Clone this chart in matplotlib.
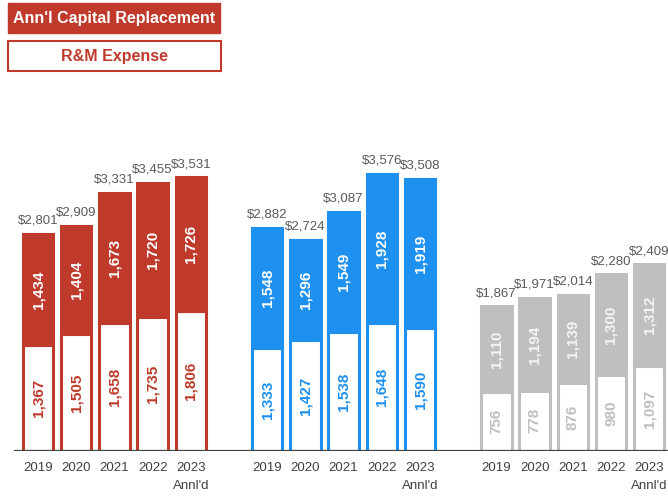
import matplotlib.pyplot as plt
from matplotlib.patches import Rectangle

# --- Data ---
years = ["2019", "2020", "2021", "2022", "2023\nAnnl'd"]

red_capital = [1434, 1404, 1673, 1720, 1726]
red_rm = [1367, 1505, 1658, 1735, 1806]
red_total = [2801, 2909, 3331, 3455, 3531]

blue_capital = [1548, 1296, 1549, 1928, 1919]
blue_rm = [1333, 1427, 1538, 1648, 1590]
blue_total = [2882, 2724, 3087, 3576, 3508]

gray_capital = [1110, 1194, 1139, 1300, 1312]
gray_rm = [756, 778, 876, 980, 1097]
gray_total = [1867, 1971, 2014, 2280, 2409]

groups = [
    (red_capital, red_rm, red_total, "#BF3A2B", "#BF3A2B", "white"),
    (blue_capital, blue_rm, blue_total, "#1E90F0", "#1E90F0", "white"),
    (gray_capital, gray_rm, gray_total, "#BFBFBF", "#BFBFBF", "#F4F4F4"),
]

plt.rcParams["font.family"] = ["Liberation Sans", "DejaVu Sans"]

W, H = 668, 498
fig = plt.figure(figsize=(W / 100, H / 100), dpi=100)
base_px = 47
ax = fig.add_axes([0, base_px / H, 1, 1 - base_px / H])

# x pixel = 38 + 38.2 * x
px0, step = 38, 38.2
ax.set_xlim(-px0 / step, (W - px0) / step)
ax.set_ylim(0, (H - base_px) / (217 / 2801))

width = 0.8
ticks, ticklabels = [], []
for g, (cap, rm, tot, col, txt_low, txt_high) in enumerate(groups):
    xs = [g * 6 + i for i in range(len(years))]
    ax.bar(xs, rm, width, color="white", edgecolor=col, linewidth=2.2, zorder=2)
    ax.bar(xs, cap, width, bottom=rm, color=col, edgecolor=col, linewidth=2.2, zorder=2)
    for x, c, r, t in zip(xs, cap, rm, tot):
        ax.text(x, r / 2, f"{r:,}", rotation=90, ha="center", va="center",
                color=txt_low, fontsize=11, fontweight="bold", zorder=3)
        ax.text(x, r + c / 2, f"{c:,}", rotation=90, ha="center", va="center",
                color=txt_high, fontsize=11, fontweight="bold", zorder=3)
        ax.text(x, r + c + 95, f"${t:,}", ha="center", va="bottom",
                color="#595959", fontsize=9.5, zorder=3)
    ticks += xs
    ticklabels += years

ax.set_xticks(ticks)
ax.set_xticklabels(ticklabels, fontsize=9.5, color="#404040", linespacing=1.6)
ax.tick_params(axis="x", length=0, pad=8)
ax.set_yticks([])
for s in ax.spines.values():
    s.set_visible(False)
ax.axhline(0, xmin=15 / W, xmax=1, color="#404040", linewidth=1.6, zorder=4)

# Legend boxes
red = "#BF3A2B"
fig.add_artist(Rectangle((8 / W, 1 - 33 / H), 212 / W, 30 / H,
                         transform=fig.transFigure, facecolor=red, edgecolor=red, linewidth=1))
fig.text(114 / W, 1 - 18 / H, "Ann'l Capital Replacement", ha="center", va="center",
         color="white", fontsize=11.5, fontweight="bold")
fig.add_artist(Rectangle((8 / W, 1 - 71 / H), 213 / W, 30 / H,
                         transform=fig.transFigure, facecolor="white", edgecolor=red, linewidth=1.5))
fig.text(114 / W, 1 - 56 / H, "R&M Expense", ha="center", va="center",
         color=red, fontsize=11.5, fontweight="bold")

fig.savefig("out.png", dpi=100)
